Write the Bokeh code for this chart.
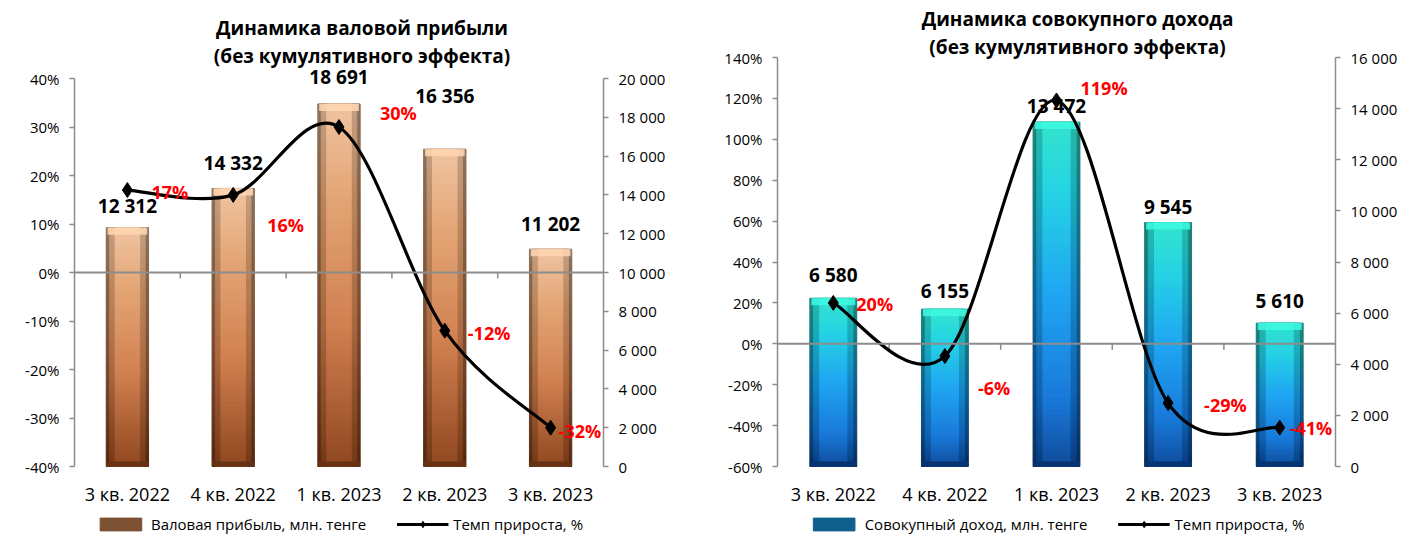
import numpy as np
from bokeh.plotting import figure
from bokeh.models import (ColumnDataSource, FactorRange, Range1d, LinearAxis, FixedTicker,
                          Span, Legend, LegendItem, Label)
from bokeh.layouts import row
from bokeh.embed import file_html
from bokeh.resources import INLINE
from bokeh.core.properties import value

# ---------------- data ----------------
categories = ["3 кв. 2022", "4 кв. 2022", "1 кв. 2023", "2 кв. 2023", "3 кв. 2023"]

gross_profit = [12312, 14332, 18691, 16356, 11202]
gross_growth = [17, 16, 30, -12, -32]

income = [6580, 6155, 13472, 9545, 5610]
income_growth = [20, -6, 119, -29, -41]

left_pct_ticks = [-40, -30, -20, -10, 0, 10, 20, 30, 40]
left_val_ticks = [0, 2000, 4000, 6000, 8000, 10000, 12000, 14000, 16000, 18000, 20000]
right_pct_ticks = [-60, -40, -20, 0, 20, 40, 60, 80, 100, 120, 140]
right_val_ticks = [0, 2000, 4000, 6000, 8000, 10000, 12000, 14000, 16000]

titles = [("Динамика валовой прибыли", "(без кумулятивного эффекта)"),
          ("Динамика совокупного дохода", "(без кумулятивного эффекта)")]
bar_names = ["Валовая прибыль, млн. тенге", "Совокупный доход, млн. тенге"]
line_name = "Темп прироста, %"

# ---------------- style ----------------
FONT = "Open Sans"
AX = "#8c8c8c"
TOP = 2
FRAME_H = 533          # frame spans the whole height below the small top border
AXIS_BOT = 69          # pixels from the frame bottom up to the bottom tick of the axes
brown_stops = [(0.0, (234, 190, 156)), (0.25, (222, 160, 112)), (0.6, (204, 124, 76)), (1.0, (138, 66, 26))]
blue_stops = [(0.0, (46, 222, 200)), (0.2, (32, 206, 222)), (0.5, (26, 160, 236)), (0.8, (20, 116, 212)), (1.0, (10, 70, 150))]


def interp(stops, t):
    for (t0, c0), (t1, c1) in zip(stops[:-1], stops[1:]):
        if t <= t1:
            f = (t - t0) / (t1 - t0) if t1 > t0 else 0
            return tuple(c0[k] + (c1[k] - c0[k]) * f for k in range(3))
    return stops[-1][1]


def hexc(c, k=1.0, add=0):
    return "#%02x%02x%02x" % tuple(int(max(0, min(255, v * k + add))) for v in c)


def fmt_thousands(v):
    return f"{v:,}".replace(",", " ")


def bezier_source(pcts):
    n = len(pcts)
    xs = [i + 0.5 for i in range(n)]
    d = dict(x0=[], y0=[], x1=[], y1=[], cx0=[], cy0=[], cx1=[], cy1=[])
    for i in range(n - 1):
        p = max(i - 1, 0)
        q = min(i + 2, n - 1)
        d["x0"].append(xs[i]); d["y0"].append(pcts[i])
        d["x1"].append(xs[i + 1]); d["y1"].append(pcts[i + 1])
        d["cx0"].append(xs[i] + (xs[i + 1] - xs[p]) / 6)
        d["cy0"].append(pcts[i] + (pcts[i + 1] - pcts[p]) / 6)
        d["cx1"].append(xs[i + 1] - (xs[q] - xs[i]) / 6)
        d["cy1"].append(pcts[i + 1] - (pcts[q] - pcts[i]) / 6)
    return ColumnDataSource(d)


def make_chart(title, vals, pcts, pct_ticks, val_ticks, stops, bar_name,
               border_l, frame_w, border_r, axis_top, bar_w,
               val_off, pct_dx, pct_dy, title_dx, title_y):
    # axis_top: pixels from the frame top to the top tick of the axes
    axis_h = FRAME_H - axis_top - AXIS_BOT
    ymin, ymax = pct_ticks[0], pct_ticks[-1]
    vmin, vmax = val_ticks[0], val_ticks[-1]
    yspan, vspan = ymax - ymin, vmax - vmin
    ytop = ymax + axis_top * yspan / axis_h
    ybot = ymin - AXIS_BOT * yspan / axis_h
    vtop = vmax + axis_top * vspan / axis_h
    vbot = vmin - AXIS_BOT * vspan / axis_h
    p = figure(x_range=FactorRange(*categories), y_range=Range1d(ybot, ytop),
               x_axis_location=None,
               frame_width=frame_w, frame_height=FRAME_H,
               min_border_left=border_l, min_border_right=border_r,
               min_border_top=TOP, min_border_bottom=0,
               output_backend="svg", toolbar_location=None,
               background_fill_color="white", border_fill_color="white", outline_line_color=None)
    p.extra_y_ranges = {"val": Range1d(vbot, vtop)}
    p.xgrid.visible = False
    p.ygrid.visible = False

    ya = p.yaxis[0]
    ya.ticker = FixedTicker(ticks=pct_ticks)
    ya.major_label_overrides = {t: f"{t}%" for t in pct_ticks}
    ya.bounds = (ymin, ymax)
    ra = LinearAxis(y_range_name="val", ticker=FixedTicker(ticks=val_ticks), bounds=(vmin, vmax))
    ra.major_label_overrides = {t: fmt_thousands(t) for t in val_ticks}
    p.add_layout(ra, "right")
    for a in (ya, ra):
        a.axis_label = None
        a.axis_line_color = AX
        a.axis_line_width = 1.5
        a.major_tick_line_color = AX
        a.major_tick_line_width = 1.5
        a.major_tick_in = 0
        a.major_tick_out = 5
        a.minor_tick_line_color = None
        a.major_label_text_font = FONT
        a.major_label_text_font_size = "15px"
        a.major_label_text_color = "#000000"
        a.major_label_standoff = 10

    # bars with gradient, drawn in slices of each bar's own value
    N = 60
    vpx = vspan / axis_h          # value units per pixel
    d = dict(x=[], bottom=[], top=[], c_out=[], c_mid=[], c_in=[])
    for cat, v in zip(categories, vals):
        for k in range(N):
            t = 1 - (k + 0.5) / N
            c = interp(stops, t)
            d["x"].append(cat)
            d["bottom"].append(v * k / N)
            d["top"].append(v * (k + 1) / N)
            d["c_out"].append(hexc(c, 0.6))
            d["c_mid"].append(hexc(c, 0.84))
            d["c_in"].append(hexc(c, 1.0, 6))
    src = ColumnDataSource(d)
    r_out = p.vbar(x="x", bottom="bottom", top="top", width=bar_w, source=src,
                   fill_color="c_out", line_color="c_out", line_width=1, y_range_name="val")
    p.vbar(x="x", bottom="bottom", top="top", width=bar_w * 0.84, source=src,
           fill_color="c_mid", line_color="c_mid", line_width=1, y_range_name="val")
    p.vbar(x="x", bottom="bottom", top="top", width=bar_w * 0.58, source=src,
           fill_color="c_in", line_color="c_in", line_width=1, y_range_name="val")
    # bevel: light cap on top, dark band at bottom
    top_c = hexc(interp(stops, 0.0), 1.06, 14)
    p.vbar(x=categories, top=vals, bottom=[v - 7 * vpx for v in vals], width=bar_w * 0.94,
           fill_color=top_c, line_color=None, fill_alpha=0.85, y_range_name="val")
    p.vbar(x=categories, top=[5 * vpx] * len(vals), bottom=[0] * len(vals), width=bar_w,
           fill_color=hexc(interp(stops, 1.0), 0.75), line_color=None, y_range_name="val")

    # zero line with category ticks
    p.add_layout(Span(location=0, dimension="width", line_color=AX, line_width=2))
    tick_len = yspan * 6 / axis_h
    nb = len(categories) - 1
    p.segment(x0=list(range(1, nb + 1)), x1=list(range(1, nb + 1)),
              y0=[0] * nb, y1=[-tick_len] * nb, line_color=AX, line_width=1.5)

    # category labels under the axes
    p.text(x=categories, y=[ymin] * len(categories), text=categories, y_offset=27,
           text_align="center", text_baseline="middle", text_color="#000000",
           text_font=value(FONT), text_font_size="18px")

    # smooth growth line
    p.bezier(x0="x0", y0="y0", x1="x1", y1="y1", cx0="cx0", cy0="cy0", cx1="cx1", cy1="cy1",
             source=bezier_source(pcts), line_color="black", line_width=3.2)
    lsrc = ColumnDataSource(dict(x=categories, y=pcts, t=[f"{v}%" for v in pcts],
                                 dx=pct_dx, dy=pct_dy))
    mk = p.scatter(x="x", y="y", source=lsrc, marker="diamond", size=15,
                   fill_color="black", line_color="black")
    # line renderer used only for the legend sample (no visible points)
    legend_line = p.line(x=categories, y=[np.nan] * len(categories),
                         line_color="black", line_width=3.2)

    # labels
    p.text(x="x", y="y", text="t", source=lsrc, x_offset="dx", y_offset="dy",
           text_align="left", text_baseline="middle", text_color="#ff0000",
           text_font=value(FONT), text_font_style="bold", text_font_size="18px")
    vsrc = ColumnDataSource(dict(x=categories, y=vals, t=[fmt_thousands(v) for v in vals],
                                 dy=[-o for o in val_off]))
    p.text(x="x", y="y", text="t", source=vsrc, y_offset="dy", y_range_name="val",
           text_align="center", text_baseline="middle", text_color="#000000",
           text_font=value(FONT), text_font_style="bold", text_font_size="19px")

    # title (two lines), inside the extended frame above the axes
    for line, ty in zip(title, title_y):
        p.add_layout(Label(x=len(categories) / 2, y=ytop, x_offset=title_dx, y_offset=-ty,
                           text=line, text_align="center", text_baseline="middle",
                           text_font=FONT, text_font_style="bold", text_font_size="19px",
                           text_color="#000000"))

    # legend at the bottom of the frame
    leg = Legend(items=[LegendItem(label=bar_name, renderers=[r_out], index=N // 2),
                        LegendItem(label=line_name, renderers=[legend_line, mk])],
                 orientation="horizontal", location="bottom_center",
                 glyph_width=52, glyph_height=16, label_height=22, label_standoff=5, spacing=30,
                 padding=0, margin=0, border_line_color=None, background_fill_alpha=0,
                 label_text_font=FONT, label_text_font_size="15px", label_text_color="#000000")
    p.add_layout(leg)
    return p


p1 = make_chart(titles[0], gross_profit, gross_growth, left_pct_ticks, left_val_ticks, brown_stops,
                bar_names[0], border_l=74, frame_w=529, border_r=105, axis_top=78 - TOP, bar_w=0.4,
                val_off=[22, 25, 27, 53, 25],
                pct_dx=[24, 34, 41, 23, 8], pct_dy=[2, 30, -14, 2, 3],
                title_dx=23, title_y=[27 - TOP, 55 - TOP])
p2 = make_chart(titles[1], income, income_growth, right_pct_ticks, right_val_ticks, blue_stops,
                bar_names[1], border_l=69, frame_w=558, border_r=81, axis_top=57 - TOP, bar_w=0.42,
                val_off=[23, 18, 16, 16, 22],
                pct_dx=[23, 33, 24, 36, 10], pct_dy=[1, 32, -12, 2, 0],
                title_dx=21, title_y=[18 - TOP, 46 - TOP])

layout = row(p1, p2)
open("out.html", "w").write(file_html(layout, INLINE))
